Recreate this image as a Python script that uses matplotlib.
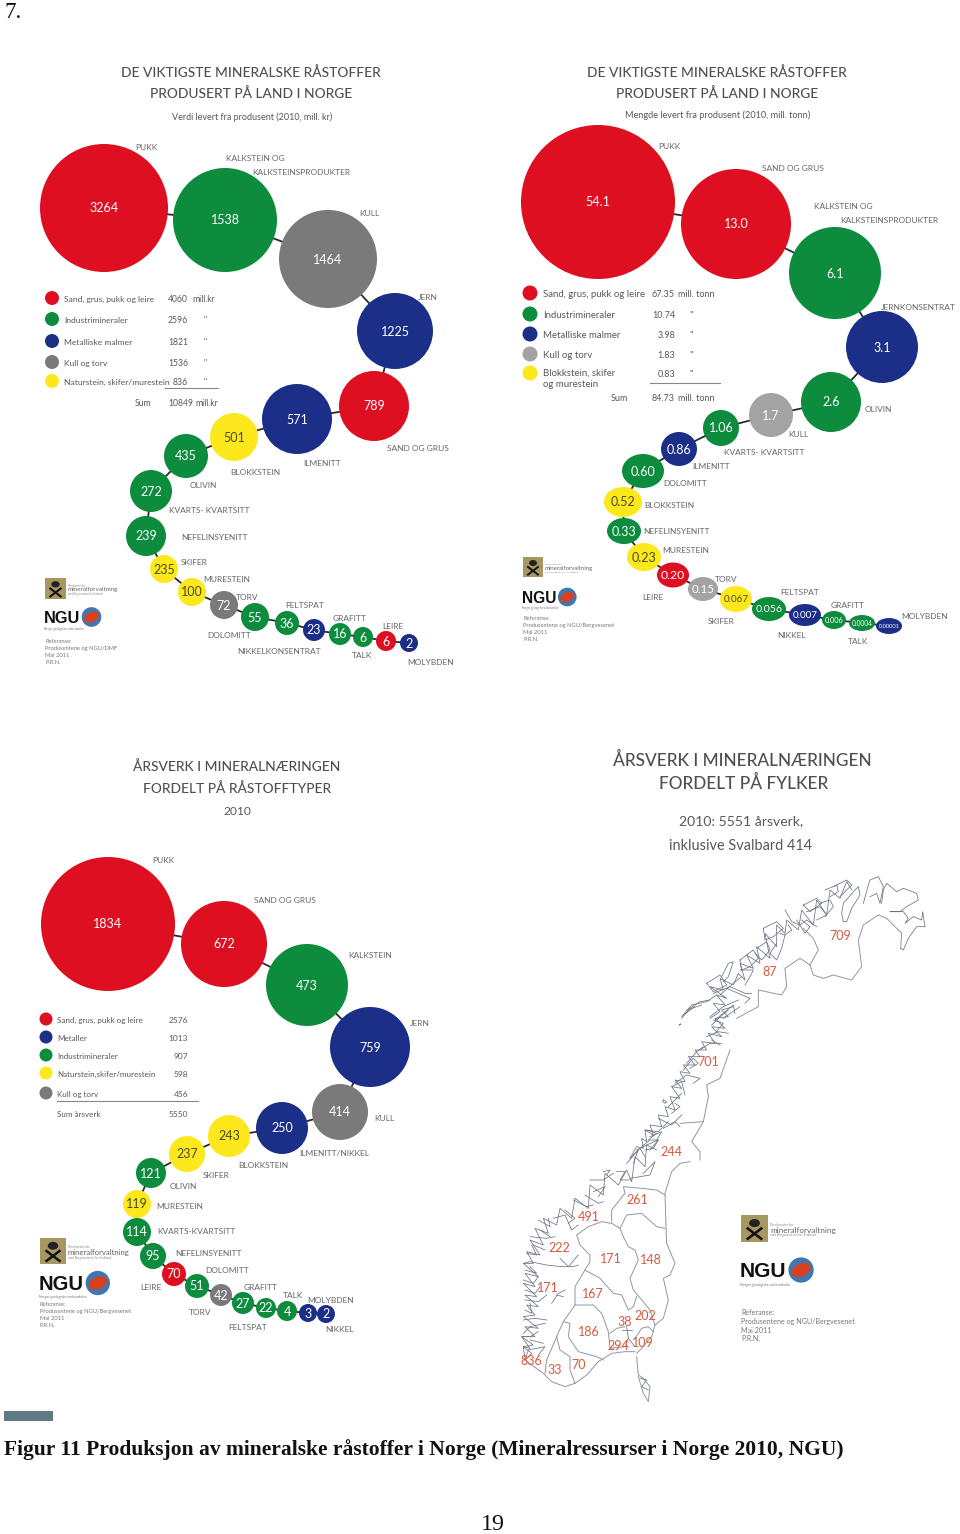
import matplotlib
matplotlib.use("Agg")
import matplotlib.pyplot as plt
from matplotlib.patches import Ellipse, Rectangle

RED, GREEN, NAVY, GRAY, YEL = "#dd0f20", "#0c8c3c", "#1c2f88", "#7a7a7a", "#fde81e"
LGRAY = "#a3a3a3"
LABEL = "#666666"
TXT = "#585858"
TITLE = "#4f4f4f"
plt.rcParams["font.family"] = ["Lato", "DejaVu Sans"]

# ---------- Panel A: value (mill. kr)
A_values = ["3264","1538","1464","1225","789","571","501","435","272","239","235","100","72","55","36","23","16","6","6","2"]
A_colors = [RED,GREEN,GRAY,NAVY,RED,NAVY,YEL,GREEN,GREEN,GREEN,YEL,YEL,GRAY,GREEN,GREEN,NAVY,GREEN,GREEN,RED,NAVY]
A_names = ["PUKK","KALKSTEIN OG\nKALKSTEINSPRODUKTER","KULL","JERN","SAND OG GRUS","ILMENITT","BLOKKSTEIN","OLIVIN","KVARTS- KVARTSITT","NEFELINSYENITT","SKIFER","MURESTEIN","TORV","DOLOMITT","FELTSPAT","NIKKELKONSENTRAT","GRAFITT","TALK","LEIRE","MOLYBDEN"]
A_cx = [104,225,328,395,374,297,234,186,151,146,164,192,224,255,287,314,340,363,386,409]
A_cy = [208,220,259,331,406,419,437,456,491,536,569,592,605,617,623,630,634,637,641,643]
A_r  = [64,52,49,38,35,35,24,22,21,20,14,14,14,14,12,11,11,10,10,9]
A_lx = [146,301,369,428,418,322,255,203,209,214,194,227,247,229,305,279,350,362,393,431]
A_ly = [146,164,212,296,447,462,471,484,509,536,561,578,596,634,604,650,617,654,625,661]

A_leg_names = ["Sand, grus, pukk og leire","Industrimineraler","Metalliske malmer","Kull og torv","Naturstein, skifer/murestein"]
A_leg_vals = ["4060","2596","1821","1536","836"]
A_leg_units = ["mill.kr",'"','"','"','"']
A_leg_cols = [RED,GREEN,NAVY,GRAY,YEL]

# ---------- Panel B: quantity (mill. tonn)
B_values = ["54.1","13.0","6.1","3.1","2.6","1.7","1.06","0.86","0.60","0.52","0.33","0.23","0.20","0.15","0.067","0.056","0.007","0.006","0.0004","0.00001"]
B_colors = [RED,RED,GREEN,NAVY,GREEN,LGRAY,GREEN,NAVY,GREEN,YEL,GREEN,YEL,RED,LGRAY,YEL,GREEN,NAVY,GREEN,GREEN,NAVY]
B_names = ["PUKK","SAND OG GRUS","KALKSTEIN OG\nKALKSTEINSPRODUKTER","JERNKONSENTRAT","OLIVIN","KULL","KVARTS- KVARTSITT","ILMENITT","DOLOMITT","BLOKKSTEIN","NEFELINSYENITT","MURESTEIN","LEIRE","TORV","SKIFER","FELTSPAT","NIKKEL","GRAFITT","TALK","MOLYBDEN"]
B_cx = [598,736,835,882,831,771,721,679,643,623,624,644,673,703,736,769,805,834,862,889]
B_cy = [202,224,273,347,402,415,428,449,471,502,531,557,575,589,599,609,615,620,623,626]
B_rx = [77,55,46,36,30,22,18,18,21,19,17,17,16,15,16,17,16,12,13,13]
B_ry = [77,55,46,36,30,22,18,17,17,15,13,14,12.5,12,13,12,11,9,8,8]
B_lx = [669,793,889,918,878,798,764,711,685,669,677,686,653,726,721,800,792,848,858,925]
B_ly = [145,167,212,306,408,433,451,465,482,504,530,549,596,578,620,591,634,604,640,615]

B_leg_names = ["Sand, grus, pukk og leire","Industrimineraler","Metalliske malmer","Kull og torv","Blokkstein, skifer\nog murestein"]
B_leg_vals = ["67.35","10.74","3.98","1.83","0.83"]
B_leg_units = ["mill. tonn",'"','"','"','"']
B_leg_cols = [RED,GREEN,NAVY,LGRAY,YEL]

# ---------- Panel C: man-years by raw material
C_values = ["1834","672","473","759","414","250","243","237","121","119","114","95","70","51","42","27","22","4","3","2"]
C_colors = [RED,RED,GREEN,NAVY,GRAY,NAVY,YEL,YEL,GREEN,YEL,GREEN,GREEN,RED,GREEN,GRAY,GREEN,GREEN,GREEN,NAVY,NAVY]
C_names = ["PUKK","SAND OG GRUS","KALKSTEIN","JERN","KULL","ILMENITT/NIKKEL","BLOKKSTEIN","SKIFER","OLIVIN","MURESTEIN","KVARTS-KVARTSITT","NEFELINSYENITT","LEIRE","DOLOMITT","TORV","FELTSPAT","GRAFITT","TALK","MOLYBDEN","NIKKEL"]
C_cx = [108,224,307,370,340,282,229,187,151,137,137,153,174,197,221,243,266,287,308,326]
C_cy = [924,944,985,1047,1112,1128,1136,1154,1173,1204,1232,1256,1274,1286,1295,1303,1308,1311,1313,1314]
C_r  = [67,43,41,40,28,26,21,18,15,14,14,13,12,12,11,11,10,10,9,9]
C_lx = [163,285,370,420,384,334,263,216,183,180,196,209,151,227,200,248,261,293,331,340]
C_ly = [859,899,954,1022,1117,1152,1164,1174,1185,1205,1230,1252,1286,1269,1311,1326,1286,1294,1299,1328]

C_leg_names = ["Sand, grus, pukk og leire","Metaller","Industrimineraler","Naturstein,skifer/murestein","Kull og torv"]
C_leg_vals = ["2576","1013","907","598","456"]
C_leg_cols = [RED,NAVY,GREEN,YEL,GRAY]

# ---------- Panel D: man-years by county
D_values = ["709","87","701","244","261","491","222","171","148","171","167","202","38","186","294","109","836","33","70"]
D_lx = [840,770,708,671,637,589,559,611,651,548,593,645,625,589,618,643,531,555,579]
D_ly = [936,972,1062,1152,1200,1217,1248,1259,1260,1288,1294,1316,1322,1332,1346,1343,1361,1370,1365]

N_BASE = (670, 870)
N_BORDER = [[(692,235),(695,190),(650,145),(625,135),(580,165),(565,210),(575,290),(545,330),(490,315),(460,325),(430,315),(420,285),(390,265),(345,295),(350,350),(335,375),(265,360),(265,410),(200,445)],
            [(420,285),(445,240),(430,205),(400,175)]]
N_COAST = [[(692,235),(700,240),(715,205),(740,170),(765,170),(758,125),(755,150),(730,140),(705,160),(715,145),(700,125),(660,125),(690,125),(710,110),(745,90),(740,70),(700,55),(680,65),(650,40),(640,60),(635,100)],
 [(120,445),(150,425),(130,400),(165,405),(140,375),(170,385),(120,350),(160,360),(150,325),(190,345),(205,310),(225,330),(210,280),(250,295),(230,255),(270,280),(260,230),(300,265),(285,190),(320,230),(320,165),(345,190),(350,150),(385,180),(395,120),(430,165),(440,90),(470,135),(480,60),(510,85),(530,35),(545,60)],
 [(520,155),(515,130),(520,100),(555,60),(565,50),(570,75),(545,115),(530,155),(520,155)],
 [(580,100),(595,45),(600,30),(625,20),(640,50),(630,100),(620,70),(600,80)],
 [(345,120),(365,155),(390,165),(410,150),(440,170)],
 [(380,150),(405,190),(420,170),(395,150)],
 [(400,105),(440,85),(455,100),(420,125),(400,105)],
 [(410,125),(450,110),(470,135),(440,150)],
 [(450,100),(480,90),(490,110),(465,140)],
 [(465,60),(500,45),(505,65),(480,80)],
 [(490,50),(530,30),(545,45),(510,80)],
 [(280,175),(320,155),(340,175),(310,200),(285,210),(280,175)],
 [(330,190),(345,195),(335,235),(320,270),(300,250),(320,220)],
 [(355,165),(365,180),(345,195)],
 [(260,235),(290,215),(300,240),(275,270),(255,250)],
 [(210,270),(250,240),(265,265),(240,290),(215,300),(210,270)],
 [(210,300),(250,300),(240,320),(225,345)],
 [(155,320),(175,280),(190,275),(175,320),(160,335)],
 [(110,340),(150,315),(170,345),(130,365),(110,340)],
 [(130,370),(180,350),(225,370),(245,370)],
 [(150,375),(190,340),(215,320)],
 [(170,355),(240,385),(225,400)],
 [(35,440),(65,405),(110,395),(140,375)],
 [(50,420),(95,405)],
 [(120,440),(160,410),(205,390)],
 [(135,450),(190,405),(195,430)],
 [(160,445),(210,410)]]

M_BASE = (600, 1000)
M_BORDER = [[(390,150),(360,235),(320,255),(325,290),(310,365),(275,425),(300,455),(300,480)],
            [(240,370),(310,365)]]
M_COAST = [[(90,475),(110,440),(130,445),(125,415),(140,425),(135,390),(160,405),(150,375),(185,380),(175,345),(205,350),(195,320),(225,330),(210,290),(240,295),(215,260),(245,265),(225,240),(255,245),(240,215),(270,220),(250,195),(285,195),(265,170),(300,170),(285,150),(320,150),(305,125),(345,130),(325,100),(365,110),(335,80),(375,85),(345,55),(385,50),(365,30),(400,20)],
 [(245,55),(270,25),(300,5),(330,0)],
 [(250,45),(285,20)],
 [(238,75),(242,72),(238,75)],
 [(335,75),(355,55),(385,30)],
 [(340,60),(370,70),(345,100)],
 [(320,110),(355,95),(385,100)],
 [(300,150),(330,130),(365,130)],
 [(335,120),(360,135)],
 [(260,190),(290,155),(310,140)],
 [(250,210),(280,175),(295,190),(270,205)],
 [(225,250),(260,225),(300,235),(280,250)],
 [(215,260),(245,245),(255,285)],
 [(205,320),(235,290),(245,280)],
 [(215,340),(240,320),(225,310)],
 [(175,355),(215,375),(245,345)],
 [(190,385),(225,365),(240,380)],
 [(135,390),(175,395),(205,365)],
 [(150,410),(185,395),(170,420)],
 [(125,440),(150,420),(175,420),(150,450)],
 [(90,475),(120,445),(135,470)],
 [(190,300),(200,305),(195,310),(188,305),(190,300)]]

S_BASE = (510, 1130)
S_BORDER = [[(540,95),(510,100),(485,125),(465,190),(468,290),(470,340),(495,400),(480,435),(460,445),(475,510),(460,565),(435,585),(425,620),(395,655),(380,670)],
 [(380,680),(385,735),(400,745),(420,770),(415,815),(400,790),(385,740)],
 [(375,665),(345,665),(305,670),(265,695),(230,735),(195,760),(165,770),(125,755),(100,730),(65,705),(45,690),(55,660)],
 [(305,280),(330,295),(350,255),(395,250),(440,290),(465,295)],
 [(330,295),(340,320),(355,350),(375,360),(385,390),(360,445),(370,480),(395,510),(420,540),(435,585)],
 [(305,280),(275,275),(235,290),(200,315),(210,345),(240,375),(240,395),(225,420),(195,470),(195,525),(160,575),(140,620),(110,690),(105,730)],
 [(225,420),(270,445),(310,490),(335,495),(355,540),(370,530),(380,500)],
 [(195,525),(250,525),(275,550),(295,605),(300,655)],
 [(160,575),(180,580),(175,620),(205,665),(260,680),(280,690)],
 [(140,620),(150,660),(180,680),(180,720),(195,760)],
 [(300,610),(320,595),(345,590)],
 [(300,655),(345,650),(355,625)],
 [(305,275),(305,240),(345,190),(340,170),(395,175),(440,180),(465,195)],
 [(375,625),(395,595),(415,590),(430,605)]]
S_COAST = [[(45,690),(65,670),(40,650),(70,645),(35,620),(75,620),(45,590),(85,595),(40,560),(75,555),(50,525),(85,530),(45,495),(80,500),(40,460),(75,470),(45,430),(85,440),(40,400),(70,400),(50,365),(90,375),(60,330),(100,345),(75,295),(115,310),(100,265),(140,285),(150,235),(185,265),(195,205),(235,235),(240,165),(280,195),(285,130),(325,165),(350,120),(365,155),(375,80),(405,110),(410,45),(440,60)],
 [(55,660),(105,650),(85,675)],
 [(45,690),(40,650),(60,655),(35,620),(60,620),(85,605)],
 [(60,630),(100,640)],
 [(40,610),(60,590),(105,580)],
 [(40,570),(75,565),(110,570)],
 [(45,540),(65,550),(60,520)],
 [(45,510),(85,515),(110,495)],
 [(45,480),(75,490),(90,470)],
 [(40,450),(70,460),(85,440)],
 [(45,420),(80,430),(60,410)],
 [(40,400),(60,395),(110,405),(155,410),(190,410),(205,405)],
 [(150,385),(175,410),(205,375)],
 [(125,520),(145,490),(165,480)],
 [(140,495),(160,500)],
 [(50,370),(80,375),(65,345)],
 [(70,345),(105,360)],
 [(60,320),(110,325),(135,320)],
 [(90,300),(120,320)],
 [(85,270),(120,290),(115,265)],
 [(130,265),(165,255),(185,300),(205,285)],
 [(165,240),(195,265),(175,280)],
 [(190,210),(230,230),(250,225)],
 [(225,195),(265,220),(280,215)],
 [(250,185),(285,170),(265,200)],
 [(240,150),(280,150),(310,130)],
 [(280,125),(300,120),(290,135)],
 [(320,125),(345,125),(330,150),(360,150)],
 [(350,100),(385,60),(370,100)],
 [(360,145),(420,135),(435,95),(400,130)],
 [(380,60),(410,45),(445,30),(430,55),(405,60)],
 [(415,30),(440,10),(410,0)],
 [(350,590),(355,625),(375,650)],
 [(335,600),(365,600)],
 [(390,745),(410,750),(395,770),(415,780)]]

fig = plt.figure(figsize=(9.6, 15.34), dpi=100)
ax = fig.add_axes([0, 0, 1, 1])
ax.set_xlim(0, 960)
ax.set_ylim(1534, 0)
ax.axis("off")

def px(s):
    return s * 0.72

def text(x, y, s, size, color=TXT, ha="center", **kw):
    ax.text(x, y + 1.5, s, fontsize=px(size), color=color, ha=ha, va="center", **kw)

def bubbles(vals, cols, names, cx, cy, rx, ry, lx, ly, lsize):
    ax.plot(cx, cy, color="#2b2b2b", lw=1.3, zorder=1)
    for v, c, n, x, y, a, b, tx, ty in zip(vals, cols, names, cx, cy, rx, ry, lx, ly):
        ax.add_patch(Ellipse((x, y), 2 * a, 2 * b, fc=c, ec="none", zorder=2))
        size = min(12.5, 2 * a * 0.8 / (0.52 * len(v)))
        text(x, y - 1, v, size, color="#4a4a20" if c == YEL else "white", zorder=3)
        if "\n" in n:
            a1, a2 = n.split("\n")
            off = 7
            text(tx - 46, ty - off, a1, lsize, color=LABEL)
            text(tx, ty + off, a2, lsize, color=LABEL)
        else:
            text(tx, ty, n, lsize, color=LABEL)

def logo(x, y, s, ny, refs, ry, rsize):
    ax.add_patch(Rectangle((x, y), s, s, fc="#a99763", ec="none"))
    m = x + s / 2
    ax.add_patch(Ellipse((m, y + s * 0.3), s * 0.4, s * 0.3, fc="#222", ec="none"))
    ax.plot([m - s * .25, m + s * .25], [y + s * .5, y + s * .88], color="#111", lw=s * .07)
    ax.plot([m + s * .25, m - s * .25], [y + s * .5, y + s * .88], color="#111", lw=s * .07)
    tx = x + s + 2
    text(tx, y + s * .50, "mineralforvaltning", s * .30, color="#666", ha="left")
    text(tx, y + s * .30, "Direktoratet for", s * .12, color="#888", ha="left")
    text(tx, y + s * .70, "med Bergmesteren for Svalbard", s * .12, color="#888", ha="left")
    h = s * 0.78
    nx = x - 1
    text(nx, ny, "NGU", h, color="#111", ha="left", fontweight="bold", family="Liberation Sans")
    c = (nx + h * 2.9, ny)
    ax.add_patch(Ellipse(c, h * 1.2, h * 1.2, fc="#3f78b0", ec="none"))
    ax.add_patch(Ellipse(c, h * .95, h * .6, angle=-25, fc="#d9401f", ec="none"))
    text(nx, ny + h * .62, "Norges geologiske undersøkelse", s * .13, color="#777", ha="left")
    for i, r in enumerate(refs):
        text(x, ry + i * rsize * 1.22, r, rsize, color="#777", ha="left")

# Page furniture
text(4, 11, "7.", 23, color="#111", ha="left", family="Liberation Serif")
ax.add_patch(Rectangle((4, 1411), 49, 10, fc="#5f7a84", ec="none"))
text(4, 1448, "Figur 11 Produksjon av mineralske råstoffer i Norge (Mineralressurser i Norge 2010, NGU)", 21.5,
     color="#111", ha="left", family="Liberation Serif", fontweight="bold")
text(493, 1523, "19", 24, color="#111", family="Liberation Serif")

# Titles
text(251, 71, "DE VIKTIGSTE MINERALSKE RÅSTOFFER", 13.8, color=TITLE, fontweight="medium")
text(251, 92, "PRODUSERT PÅ LAND I NORGE", 13.8, color=TITLE, fontweight="medium")
text(252, 116, "Verdi levert fra produsent (2010, mill. kr)", 9)
text(717, 71, "DE VIKTIGSTE MINERALSKE RÅSTOFFER", 13.8, color=TITLE, fontweight="medium")
text(717, 92, "PRODUSERT PÅ LAND I NORGE", 13.8, color=TITLE, fontweight="medium")
text(718, 114, "Mengde levert fra produsent (2010, mill. tonn)", 9.2)
text(237, 765, "ÅRSVERK I MINERALNÆRINGEN", 13.8, color=TITLE, fontweight="medium")
text(237, 787, "FORDELT PÅ RÅSTOFFTYPER", 13.8, color=TITLE, fontweight="medium")
text(237, 810, "2010", 12)
text(742, 759, "ÅRSVERK I MINERALNÆRINGEN", 17.2, color=TITLE, fontweight="medium")
text(744, 782, "FORDELT PÅ FYLKER", 17.2, color=TITLE, fontweight="medium")
text(741, 820, "2010: 5551 årsverk,", 14)
text(741, 844, "inklusive Svalbard 414", 14.5)

# Bubble chains
bubbles(A_values, A_colors, A_names, A_cx, A_cy, A_r, A_r, A_lx, A_ly, 8.4)
bubbles(B_values, B_colors, B_names, B_cx, B_cy, B_rx, B_ry, B_lx, B_ly, 8.4)
bubbles(C_values, C_colors, C_names, C_cx, C_cy, C_r, C_r, C_lx, C_ly, 8.4)

# Legend A
for n, v, u, c, y in zip(A_leg_names, A_leg_vals, A_leg_units, A_leg_cols, [298, 319, 341, 362, 381]):
    ax.add_patch(Ellipse((52, y), 14, 14, fc=c, ec="none"))
    text(64, y, n, 8.5, ha="left")
    text(188, y, v, 8.6, ha="right")
    text(192 if u != '"' else 203, y, u, 8.6, ha="left")
ax.plot([165, 218], [388, 388], color="#888", lw=0.8)
text(135, 402, "Sum", 8.6, ha="left")
text(168, 402, "10849", 8.6, ha="left")
text(195, 402, "mill.kr", 8.6, ha="left")

# Legend B
for n, v, u, c, y in zip(B_leg_names, B_leg_vals, B_leg_units, B_leg_cols, [293, 314, 334, 354, 373]):
    ax.add_patch(Ellipse((530, y), 15, 15, fc=c, ec="none"))
    if "\n" in n:
        a1, a2 = n.split("\n")
        text(543, y - 1, a1, 9.6, ha="left")
        text(543, y + 10, a2, 9.6, ha="left")
    else:
        text(543, y, n, 9.6, ha="left")
    text(675, y, v, 9, ha="right")
    text(678 if u != '"' else 689, y, u, 9, ha="left")
ax.plot([650, 720], [383, 383], color="#888", lw=0.8)
text(611, 397, "Sum", 9, ha="left")
text(652, 397, "84.73", 9, ha="left")
text(678, 397, "mill. tonn", 9, ha="left")

# Legend C
for n, v, c, y in zip(C_leg_names, C_leg_vals, C_leg_cols, [1019, 1037, 1055, 1073, 1093]):
    ax.add_patch(Ellipse((46, y), 13, 13, fc=c, ec="none"))
    text(57, y, n, 8, ha="left")
    text(188, y, v, 8.4, ha="right")
ax.plot([57, 198], [1101, 1101], color="#888", lw=0.8)
text(57, 1113, "Sum årsverk", 8, ha="left")
text(188, 1113, "5550", 8.4, ha="right")

# Logos
logo(45, 578, 21, 617, ["Referanse:", "Produsentene og NGU/DMF", "Mai 2011", "P.R.N."], 640, 5.8)
logo(523, 557, 20, 597, ["Referanse:", "Produsentene og NGU/Bergvesenet", "Mai 2011", "P.R.N."], 617, 5.8)
logo(40, 1238, 26, 1283, ["Referanse:", "Produsentene og NGU/Bergvesenet", "Mai 2011", "P.R.N."], 1303, 5.8)
logo(741, 1215, 27, 1270, ["Referanse:", "Produsentene og NGU/Bergvesenet", "Mai 2011", "P.R.N."], 1311, 7.2)

# Map
def draw_map(base, lines, color, lw):
    for line in lines:
        ax.plot([base[0] + p[0] / 3 for p in line], [base[1] + p[1] / 3 for p in line],
                color=color, lw=lw, solid_joinstyle="round")

draw_map(N_BASE, N_BORDER, "#8f97a2", 0.7)
draw_map(M_BASE, M_BORDER, "#8f97a2", 0.7)
draw_map(S_BASE, S_BORDER, "#8f97a2", 0.7)
draw_map(N_BASE, N_COAST, "#6a7380", 0.55)
draw_map(M_BASE, M_COAST, "#6a7380", 0.55)
draw_map(S_BASE, S_COAST, "#6a7380", 0.55)
for v, x, y in zip(D_values, D_lx, D_ly):
    text(x, y - 1.5, v, 12.5, color="#d8593f")

fig.savefig("out.png", dpi=100, facecolor="white")
